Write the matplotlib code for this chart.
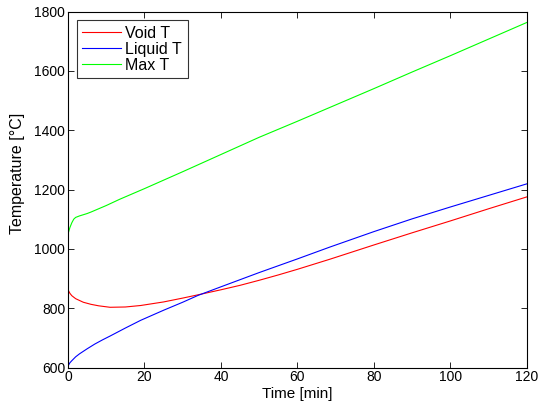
import matplotlib
matplotlib.use("Agg")
import matplotlib.pyplot as plt

plt.rcParams['font.family'] = ['Liberation Sans', 'DejaVu Sans']

# Time [min]
t_void = [0, 0.5, 1, 2, 3, 4, 6, 8, 11, 15, 19, 25, 30, 34, 40, 45, 50, 55, 60, 68.5, 80, 90, 100, 110, 120]
void_T = [862, 850, 842, 832, 826, 820, 813, 808, 803, 804, 809, 821, 834, 845, 862, 877, 894, 912, 931, 965, 1013, 1054, 1094, 1135, 1175]

t_liq = [0, 0.5, 1, 2, 3, 5, 7, 9, 11, 15, 19, 25, 30, 34, 40, 45, 50, 60, 68.5, 80, 90, 100, 110, 120]
liquid_T = [605, 616, 623, 636, 646, 663, 679, 693, 706, 733, 759, 793, 820, 843, 872, 896, 920, 966, 1006, 1058, 1101, 1141, 1180, 1219]

t_max = [0, 0.5, 1, 1.5, 2, 3, 4, 5, 6, 8, 10, 13.5, 20, 30, 40, 50, 60, 70, 80, 90, 100, 110, 120]
max_T = [1050, 1072, 1088, 1100, 1106, 1111, 1115, 1119, 1124, 1135, 1146, 1167, 1203, 1260, 1318, 1376, 1430, 1485, 1540, 1596, 1651, 1707, 1763]

x_ticks = [0, 20, 40, 60, 80, 100, 120]
y_ticks = [600, 800, 1000, 1200, 1400, 1600, 1800]

fig = plt.figure(figsize=(5.41, 4.12), dpi=100)
ax = fig.add_axes([0.1257, 0.108, 0.8479, 0.864])

ax.plot(t_void, void_T, color='#ff0000', lw=0.8, label='Void T')
ax.plot(t_liq, liquid_T, color='#0000ff', lw=0.8, label='Liquid T')
ax.plot(t_max, max_T, color='#00ff00', lw=0.8, label='Max T')

ax.set_xlim(0, 120)
ax.set_ylim(600, 1800)
ax.set_xticks(x_ticks)
ax.set_yticks(y_ticks)
ax.tick_params(direction='in', top=True, right=True, length=4, width=0.6, labelsize=10, pad=2)
for s in ax.spines.values():
    s.set_linewidth(0.8)

ax.set_xlabel('Time [min]', fontsize=11, labelpad=2)
ax.set_ylabel('Temperature [°C]', fontsize=11.5)
ax.yaxis.set_label_coords(-0.093, 0.545)

leg = ax.legend(loc='upper left', fontsize=11.5, frameon=True, fancybox=False,
                edgecolor='black', handlelength=2.4, handletextpad=0.28,
                borderaxespad=0.55, labelspacing=0.05, borderpad=0.35)
leg.get_frame().set_linewidth(0.8)

fig.savefig('out.png', dpi=100)
